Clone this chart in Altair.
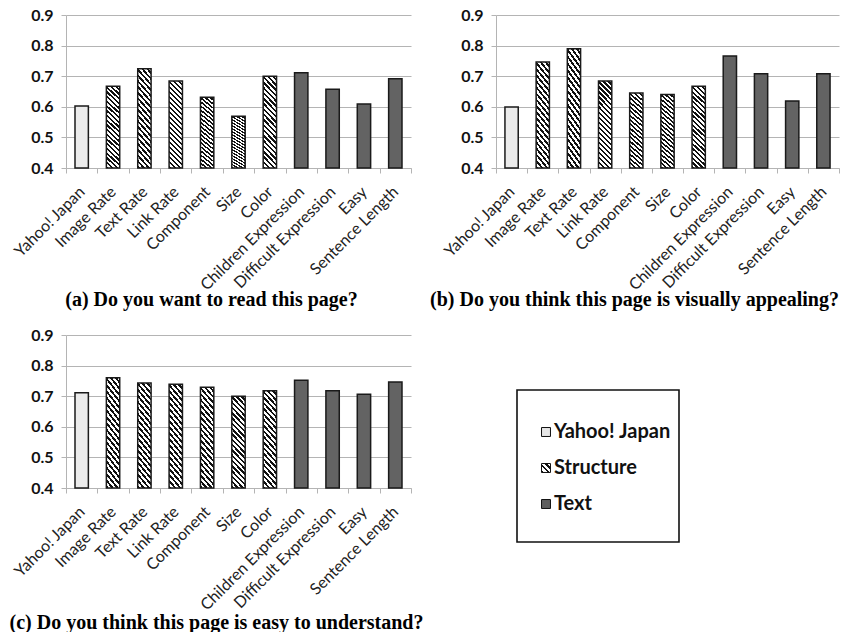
import altair as alt
import pandas as pd

categories = ["Yahoo! Japan", "Image Rate", "Text Rate", "Link Rate", "Component", "Size",
              "Color", "Children Expression", "Difficult Expression", "Easy", "Sentence Length"]
groups = ["Yahoo! Japan"] + ["Structure"] * 6 + ["Text"] * 4
read_vals = [0.603, 0.667, 0.724, 0.684, 0.631, 0.569, 0.700, 0.711, 0.657, 0.609, 0.692]
appeal_vals = [0.599, 0.746, 0.790, 0.684, 0.645, 0.640, 0.667, 0.766, 0.708, 0.619, 0.708]
understand_vals = [0.711, 0.760, 0.743, 0.739, 0.729, 0.700, 0.718, 0.752, 0.718, 0.706, 0.746]
captions = ["(a) Do you want to read this page?",
            "(b) Do you think this page is visually appealing?",
            "(c) Do you think this page is easy to understand?"]
legend_labels = ["Yahoo! Japan", "Structure", "Text"]
y_ticks = [0.4, 0.5, 0.6, 0.7, 0.8, 0.9]


def stripes(x1, y1, x2, y2, n, frac, dark="#111111", light="#ffffff"):
    stops = []
    for k in range(n):
        o0 = k / n
        o1 = (k + frac) / n
        o2 = (k + 1) / n
        stops += [alt.GradientStop(offset=o0, color=dark),
                  alt.GradientStop(offset=o1, color=dark),
                  alt.GradientStop(offset=o1, color=light),
                  alt.GradientStop(offset=o2, color=light)]
    return alt.LinearGradient(gradient="linear", x1=x1, y1=y1, x2=x2, y2=y2, stops=stops)


c_ = 6.5
a_ = (1 + c_) / (1 + c_ * c_)
hatch_bar = stripes(0, 1, a_, 1 - c_ * a_, 20, 0.47)
hatch_sym = stripes(0, 1, 1, 0, 3, 0.45)

fills = {"Yahoo! Japan": "#ebebeb", "Structure": hatch_bar, "Text": "#636363"}
sym_fills = {"Yahoo! Japan": "#e6e6e6", "Structure": hatch_sym, "Text": "#5e5e5e"}

GRID = "#b4b4b4"
W, H = 345, 153


def panel(values, caption, title_x, title_y, width):
    df = pd.DataFrame({"category": categories, "group": groups, "value": values})
    base = alt.Chart(df).encode(
        x=alt.X("category:N", sort=categories,
                scale=alt.Scale(domain=categories, paddingInner=0, paddingOuter=0),
                axis=alt.Axis(title=caption, titleFont="Liberation Serif", titleFontWeight="bold",
                              titleFontSize=20, titleColor="#000", titleX=title_x, titleY=title_y,
                              titleAlign="center", titleBaseline="middle",
                              labelAngle=-45, labelAlign="right", labelBaseline="middle",
                              labelFont="Lato", labelFontSize=16, labelColor="#222",
                              labelPadding=16, labelOverlap=False, labelLimit=0,
                              tickBand="extent", tickSize=5, tickColor=GRID,
                              domainColor=GRID, grid=False)),
        y=alt.Y("value:Q", scale=alt.Scale(domain=[0.4, 0.9], nice=False, zero=False),
                axis=alt.Axis(values=y_ticks, format=".1f", title=None,
                              labelFont="Lato", labelFontWeight="bold", labelFontSize=16,
                              labelColor="#111", labelPadding=8, tickSize=5, tickColor=GRID,
                              gridColor=GRID, domainColor=GRID)),
        y2=alt.datum(0.4),
    )
    layers = []
    for g in legend_labels:
        layers.append(base.transform_filter(alt.datum.group == g).mark_bar(
            fill=fills[g], stroke="#1a1a1a", strokeWidth=1.5,
            width=alt.RelativeBandSize(band=0.426)))
    return alt.layer(*layers).properties(width=width, height=H)


pa = panel(read_vals, captions[0], 145, 131, W)
pb = panel(appeal_vals, captions[1], 138, 131, 343)
pc = panel(understand_vals, captions[2], 150, 134, W)

leg_df = pd.DataFrame({"label": legend_labels})
ypos = alt.Y("label:N", scale=alt.Scale(type="point", domain=legend_labels, range=[97, 169], padding=0),
             axis=None)
box = alt.Chart(pd.DataFrame({"k": [0]})).mark_rect(
    fill=None, stroke="#111", strokeWidth=1.6).encode(
    x=alt.value(21), x2=alt.value(183), y=alt.value(55), y2=alt.value(207))
sym_layers = []
for g in legend_labels:
    sym_layers.append(alt.Chart(leg_df).transform_filter(alt.datum.label == g).mark_square(
        size=80, fill=sym_fills[g], stroke="#111", strokeWidth=1, opacity=1).encode(
        x=alt.value(50), y=ypos))
texts = alt.Chart(leg_df).mark_text(align="left", baseline="middle", font="Lato",
                                    fontWeight="bold", fontSize=20, color="#111").encode(
    x=alt.value(58), y=ypos, text="label:N")
leg = alt.layer(box, *sym_layers, texts).properties(width=343, height=H)

chart = alt.concat(pa, pb, pc, leg, columns=2,
                   spacing={"row": 167, "column": 85},
                   bounds="flush").properties(
    padding={"left": 9, "top": 7, "right": 0, "bottom": 0},
    background="white",
).configure_view(stroke=None)

chart.save("out.html", embed_options={"renderer": "svg", "actions": False})
